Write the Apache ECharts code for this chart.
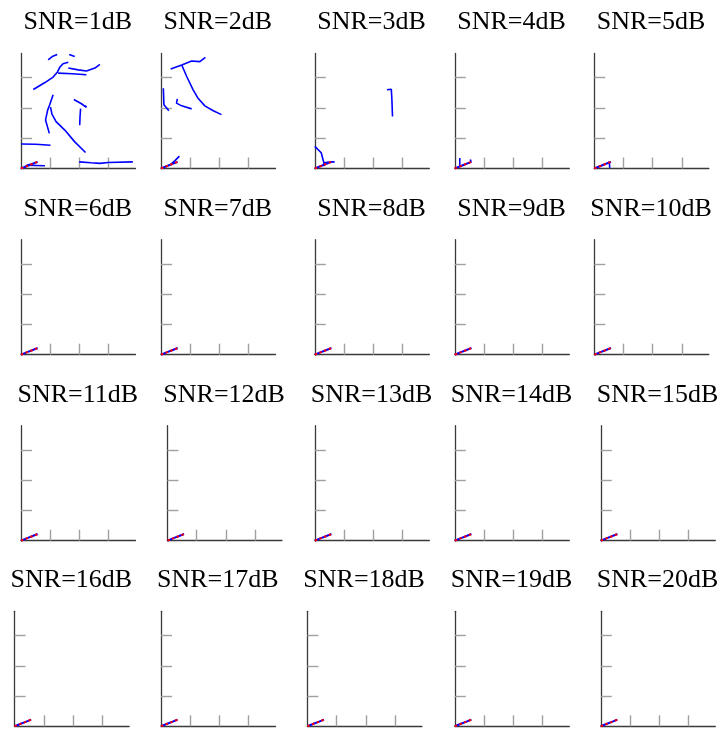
<!DOCTYPE html>
<html>
<head>
<meta charset="utf-8">
<script src="https://cdn.jsdelivr.net/npm/echarts@6/dist/echarts.min.js"></script>
<style>
  html, body { margin: 0; padding: 0; background: #fff; }
  #chart { width: 723px; height: 730px; }
</style>
</head>
<body>
<div id="chart"></div>
<script>
// SNR levels shown, one panel each
const snrLevels = [1, 2, 3, 4, 5, 6, 7, 8, 9, 10, 11, 12, 13, 14, 15, 16, 17, 18, 19, 20];

// Axis extents (km) and tick positions
const xExtent = [0, 3.92];
const yExtent = [0, 3.8];
const tickValues = [1, 2, 3];

// Ground-truth trajectory
const trueTrack = [[0, 0], [0.19, 0.075], [0.38, 0.147], [0.57, 0.22]];

// Estimated trajectory fragments per SNR (each entry is one polyline)
const estimateSnr1 = [
  [[0, 0], [0.19, 0.075], [0.38, 0.147], [0.57, 0.22]],
  [[0.12, 0.05], [0.3, 0.14]],
  [[0.19, 0.11], [0.5, 0.1], [0.82, 0.09]],
  [[0.93, 3.59], [1.07, 3.70], [1.24, 3.77]],
  [[1.65, 3.77], [1.84, 3.70]],
  [[0.42, 2.61], [0.82, 2.84], [1.10, 3.02], [1.25, 3.19], [1.33, 3.35], [1.44, 3.46], [1.62, 3.51]],
  [[1.62, 3.32], [1.96, 3.26], [2.24, 3.22], [2.53, 3.32], [2.70, 3.44]],
  [[1.27, 3.15], [1.75, 3.13], [2.24, 3.10]],
  [[1.10, 2.44], [0.98, 2.10], [0.91, 1.92], [0.84, 1.60], [0.97, 1.16]],
  [[1.01, 2.03], [1.06, 1.80], [1.20, 1.55], [1.50, 1.27], [1.84, 0.88], [2.21, 0.53]],
  [[1.81, 2.28], [2.07, 2.14], [2.24, 2.02], [2.20, 2.08]],
  [[2.04, 1.98], [2.02, 1.70], [2.01, 1.43]],
  [[0, 0.81], [0.5, 0.80], [1.01, 0.77]],
  [[1.99, 0.22], [2.40, 0.19], [2.70, 0.17], [2.98, 0.20], [3.83, 0.22]]
];
const estimateSnr2 = [
  [[0, 0], [0.19, 0.075], [0.38, 0.147], [0.57, 0.22]],
  [[0.63, 0.41], [0.48, 0.26], [0.36, 0.16]],
  [[0.33, 3.29], [0.71, 3.42], [1.05, 3.55], [1.33, 3.53], [1.52, 3.67]],
  [[0.71, 3.42], [0.88, 3.04], [1.10, 2.60], [1.27, 2.32], [1.50, 2.07], [1.79, 1.91], [2.07, 1.78]],
  [[0.08, 2.65], [0.10, 2.11], [0.27, 1.91]],
  [[0.56, 2.30], [0.53, 2.16], [0.71, 2.07], [1.05, 1.97]]
];
const estimateSnr3 = [
  [[0, 0], [0.19, 0.075], [0.38, 0.147], [0.57, 0.22]],
  [[0.31, 0.19], [0.5, 0.21], [0.68, 0.22]],
  [[0, 0.73], [0.22, 0.52], [0.31, 0.19], [0.33, 0.08]],
  [[2.47, 2.60], [2.62, 2.62], [2.64, 2.27], [2.66, 1.72]]
];
const estimateSnr4 = [
  [[0, 0], [0.19, 0.075], [0.38, 0.147], [0.57, 0.22]],
  [[0.17, 0.35], [0.17, 0.08]],
  [[0.53, 0.30], [0.56, 0.22]]
];
const estimateSnr5 = [
  [[0, 0], [0.19, 0.075], [0.38, 0.147], [0.57, 0.22]],
  [[0.51, 0.24], [0.52, 0.12], [0.53, 0.02]]
];
const estimateHighSnr = [
  [[0, 0], [0.19, 0.075], [0.38, 0.147], [0.57, 0.22]]
];
const estimatesBySnr = [estimateSnr1, estimateSnr2, estimateSnr3, estimateSnr4, estimateSnr5];

// Panel layout: plot-area left edges per row, row tops, common size
const rowLefts = [
  [21, 161, 314.8, 454.8, 594.3],
  [21, 161, 314.8, 454.8, 594.3],
  [21, 167.4, 314.8, 454.8, 600.8],
  [14.6, 161, 307.4, 454.8, 600.8]
];
const rowTops = [53.5, 239.7, 425.7, 611.3];
const panelWidth = 114.5;
const panelHeight = 115;

const grids = [], xAxes = [], yAxes = [], titles = [], series = [];

const axisLineStyle = { color: '#3a3a3a', width: 1.3 };
const tickStyle = { color: '#a0a0a0', width: 1.4 };

snrLevels.forEach((snr, i) => {
  const row = Math.floor(i / 5), col = i % 5;
  const left = rowLefts[row][col];
  const top = rowTops[row];
  grids.push({ left: left, top: top, width: panelWidth, height: panelHeight, containLabel: false });
  xAxes.push({
    gridIndex: i, type: 'value', min: xExtent[0], max: xExtent[1],
    axisLine: { show: true, onZero: false, lineStyle: axisLineStyle },
    axisTick: { show: true, inside: true, length: 11, customValues: tickValues, lineStyle: tickStyle },
    axisLabel: { show: false }, splitLine: { show: false }
  });
  yAxes.push({
    gridIndex: i, type: 'value', min: yExtent[0], max: yExtent[1],
    axisLine: { show: true, onZero: false, lineStyle: axisLineStyle },
    axisTick: { show: true, inside: true, length: 11, customValues: tickValues, lineStyle: tickStyle },
    axisLabel: { show: false }, splitLine: { show: false }
  });
  titles.push({
    text: 'SNR=' + snr + 'dB',
    left: left + panelWidth / 2 - 5.5, top: top - 49, textAlign: 'center',
    textStyle: { fontFamily: 'Liberation Serif', fontSize: 26, fontWeight: 'normal', color: '#000' }
  });
  const estimates = i < estimatesBySnr.length ? estimatesBySnr[i] : estimateHighSnr;
  estimates.forEach((piece, k) => {
    series.push({
      type: 'line', xAxisIndex: i, yAxisIndex: i, data: piece,
      showSymbol: false, symbol: 'none', silent: true, animation: false,
      lineStyle: { color: '#0000ff', width: k === 0 ? 2 : 1.6 }
    });
  });
  series.push({
    type: 'line', xAxisIndex: i, yAxisIndex: i, data: trueTrack,
    showSymbol: false, symbol: 'none', silent: true, animation: false, z: 5,
    lineStyle: { color: '#ff0000', width: 2, type: [2.5, 2.5] }
  });
});

const chart = echarts.init(document.getElementById('chart'), null, { renderer: 'canvas' });
chart.setOption({
  backgroundColor: '#fff',
  animation: false,
  title: titles,
  grid: grids,
  xAxis: xAxes,
  yAxis: yAxes,
  series: series
});
</script>
</body>
</html>
